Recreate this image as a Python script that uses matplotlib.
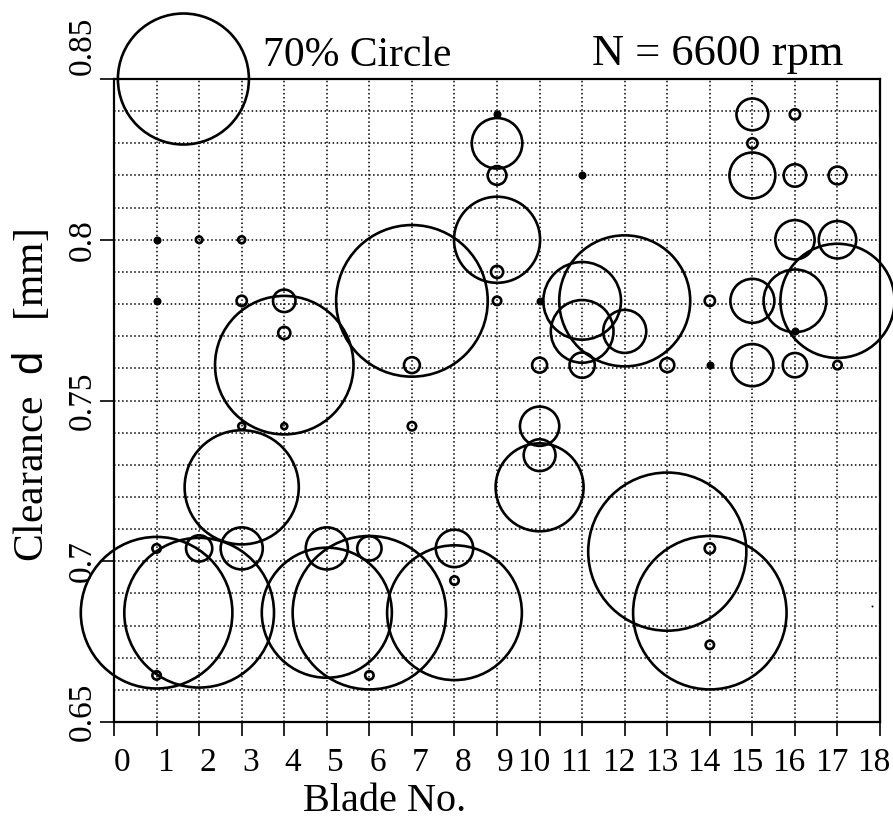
import numpy as np
import matplotlib
matplotlib.use('Agg')
import matplotlib.pyplot as plt
from matplotlib.transforms import ScaledTranslation

plt.rcParams['font.family'] = 'Liberation Serif'
plt.rcParams['mathtext.fontset'] = 'custom'
plt.rcParams['mathtext.rm'] = 'Liberation Serif'
plt.rcParams['mathtext.sf'] = 'Liberation Sans'

# Open circles: blade number, clearance [mm], circle size [%]
blade = [1, 1, 1,
         2, 2, 2,
         3, 3, 3, 3, 3,
         4, 4, 4, 4,
         5, 5,
         6, 6, 6,
         7, 7, 7,
         8, 8, 8,
         9, 9, 9, 9, 9,
         10, 10, 10, 10,
         11, 11, 11,
         12, 12,
         13, 13,
         14, 14, 14, 14,
         15, 15, 15, 15, 15,
         16, 16, 16, 16, 16,
         17, 17, 17, 17]
clearance = [0.704, 0.684, 0.6645,
             0.800, 0.704, 0.684,
             0.800, 0.781, 0.742, 0.723, 0.704,
             0.781, 0.771, 0.761, 0.742,
             0.704, 0.684,
             0.704, 0.684, 0.6645,
             0.781, 0.761, 0.742,
             0.704, 0.694, 0.684,
             0.830, 0.820, 0.800, 0.790, 0.781,
             0.761, 0.742, 0.733, 0.723,
             0.781, 0.7715, 0.761,
             0.781, 0.7715,
             0.761, 0.703,
             0.781, 0.704, 0.684, 0.674,
             0.839, 0.830, 0.820, 0.781, 0.761,
             0.839, 0.820, 0.800, 0.781, 0.761,
             0.820, 0.800, 0.781, 0.761]
percent = [4.5, 81, 4.5,
           3.5, 14, 80,
           3.7, 5.5, 3.7, 61, 22.5,
           12, 6.5, 74, 3.2,
           22.5, 69.5,
           13, 82, 4.5,
           81, 8.5, 4.5,
           20, 4.5, 72,
           27, 10, 46, 6.5, 4.5,
           8, 21, 17, 47,
           41.5, 33.5, 13.5,
           70, 23,
           7.5, 84.5,
           5.5, 5.5, 82, 4.5,
           17, 5.5, 24.5, 23.5, 22.5,
           5.5, 12, 21, 33.5, 13,
           9.5, 20, 61, 4.5]

# Filled dots
dot_blade = [1, 1, 9, 10, 11, 14, 16]
dot_clearance = [0.800, 0.781, 0.839, 0.781, 0.820, 0.761, 0.7715]
stray_blade = [17.8]
stray_clearance = [0.686]

x_ticks = list(range(19))
y_ticks = [0.65, 0.7, 0.75, 0.8, 0.85]
y_ticklabels = ['0.65', '0.7', '0.75', '0.8', '0.85']

PX_PER_PCT = 65.5 / 70.0


def area(p):
    r_pt = np.asarray(p) * PX_PER_PCT * 0.72
    return (2 * r_pt) ** 2


fig = plt.figure(figsize=(8.93, 8.23), dpi=100)
ax = fig.add_axes([0.1277, 0.1227, 0.8578, 0.7813])

ax.scatter(blade, clearance, s=area(percent), facecolors='none',
           edgecolors='black', linewidths=1.9, clip_on=False, zorder=3)
ax.scatter(dot_blade, dot_clearance, s=(2 * 4.0 * 0.72) ** 2, c='black',
           linewidths=0, clip_on=False, zorder=3)
ax.scatter(stray_blade, stray_clearance, s=2, c='black', linewidths=0, zorder=3)

# 70% reference circle
ax.scatter([1.63], [0.85], s=area(70), facecolors='none', edgecolors='black',
           linewidths=1.9, clip_on=False, zorder=4)

ax.set_xlim(0, 18)
ax.set_ylim(0.65, 0.85)
ax.set_xticks(x_ticks)
ax.set_yticks(y_ticks)
ax.set_yticklabels(y_ticklabels)
ax.set_yticks(np.round(np.arange(0.66, 0.845, 0.01), 3), minor=True)
ax.grid(which='both', linestyle=':', color='black', linewidth=1.1)
ax.set_axisbelow(True)

for s in ax.spines.values():
    s.set_linewidth(1.6)

ax.tick_params(which='major', direction='out', length=10, width=1.2,
               labelsize=24, color='black')
ax.tick_params(which='minor', length=0)
ax.tick_params(axis='x', pad=8)
ax.tick_params(axis='y', pad=2, labelrotation=90)

# nudge tick labels like the original typesetting
for lbl in ax.get_xticklabels():
    dx = 6.1 if len(lbl.get_text()) == 1 else -4.3
    lbl.set_transform(lbl.get_transform() + ScaledTranslation(dx / 72, 0, fig.dpi_scale_trans))
y_shift = {'0.85': 23.8, '0.65': 7.0}
for lbl in ax.get_yticklabels():
    lbl.set_va('center')
    dy = y_shift.get(lbl.get_text(), 0)
    lbl.set_transform(lbl.get_transform() + ScaledTranslation(0, dy / 72, fig.dpi_scale_trans))

fig.text(263 / 893, 1 - 66 / 823, '70% Circle', fontsize=30, va='baseline', ha='left')
fig.text(592 / 893, 1 - 65 / 823, 'N = 6600 rpm', fontsize=32, va='baseline', ha='left')
fig.text(385 / 893, 1 - 811 / 823, 'Blade No.', fontsize=29, va='baseline', ha='center')
fig.text(32 / 893, 1 - 396 / 823, 'Clearance  $\\mathsf{d}$   [mm]', fontsize=30,
         rotation=90, ha='center', va='center')

fig.savefig('out.png', dpi=100)
